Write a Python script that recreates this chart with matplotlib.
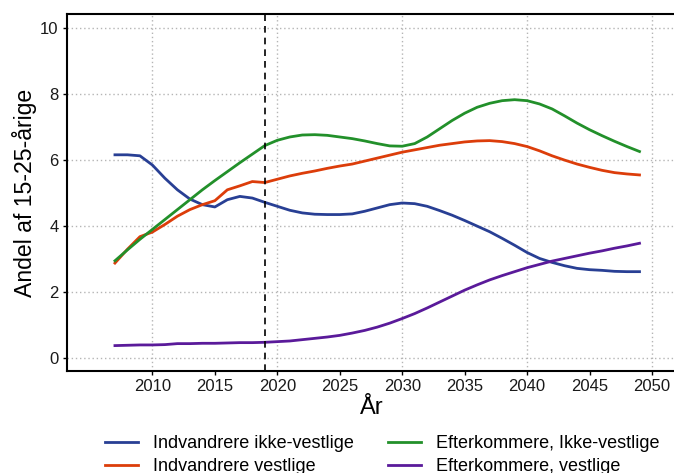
import numpy as np
import matplotlib.pyplot as plt

plt.rcParams['font.family'] = ['Liberation Sans', 'DejaVu Sans']

years = np.arange(2007, 2050)

ind_ikke_vestlige = [6.16, 6.16, 6.13, 5.85, 5.45, 5.1, 4.82, 4.65, 4.58, 4.8, 4.9, 4.85, 4.72,
                     4.6, 4.48, 4.4, 4.36, 4.35, 4.35, 4.37, 4.45, 4.55, 4.65, 4.7, 4.68, 4.6,
                     4.47, 4.33, 4.17, 4.0, 3.83, 3.63, 3.42, 3.2, 3.02, 2.9, 2.8, 2.72, 2.68,
                     2.66, 2.63, 2.62, 2.62]
ind_vestlige = [2.88, 3.3, 3.68, 3.82, 4.05, 4.3, 4.5, 4.65, 4.77, 5.1, 5.22, 5.35, 5.32,
                5.42, 5.52, 5.6, 5.67, 5.75, 5.82, 5.88, 5.97, 6.06, 6.15, 6.24, 6.31, 6.38,
                6.45, 6.5, 6.55, 6.58, 6.59, 6.56, 6.5, 6.41, 6.28, 6.13, 6.0, 5.88, 5.78,
                5.69, 5.62, 5.58, 5.55]
eft_ikke_vestlige = [2.95, 3.28, 3.6, 3.9, 4.2, 4.5, 4.8, 5.1, 5.38, 5.65, 5.92, 6.18, 6.44,
                     6.6, 6.7, 6.76, 6.77, 6.75, 6.7, 6.65, 6.58, 6.5, 6.43, 6.42, 6.5, 6.7,
                     6.95, 7.2, 7.42, 7.6, 7.72, 7.8, 7.83, 7.8, 7.7, 7.55, 7.34, 7.12, 6.92,
                     6.74, 6.57, 6.41, 6.26]
eft_vestlige = [0.38, 0.39, 0.4, 0.4, 0.41, 0.44, 0.44, 0.45, 0.45, 0.46, 0.47, 0.47, 0.48,
                0.5, 0.52, 0.56, 0.6, 0.64, 0.69, 0.76, 0.84, 0.94, 1.06, 1.2, 1.35, 1.52,
                1.7, 1.88, 2.06, 2.22, 2.37, 2.5, 2.62, 2.74, 2.84, 2.94, 3.02, 3.1, 3.18,
                3.25, 3.33, 3.4, 3.48]

series = [
    ('Indvandrere ikke-vestlige', ind_ikke_vestlige, '#283f94'),
    ('Indvandrere vestlige', ind_vestlige, '#dc3d0a'),
    ('Efterkommere, Ikke-vestlige', eft_ikke_vestlige, '#22902a'),
    ('Efterkommere, vestlige', eft_vestlige, '#5a1a9a'),
]

fig = plt.figure(figsize=(6.74, 4.73), dpi=100)
ax = fig.add_axes([0.0994, 0.2156, 0.905, 0.7544])

for label, vals, col in series:
    ax.plot(years, vals, color=col, lw=2, label=label)

ax.axvline(2019, color='black', ls=(0, (4, 3)), lw=1.2)

ax.set_xlim(2003.16, 2052.0)
ax.set_ylim(-0.39, 10.42)
ax.set_xticks(np.arange(2010, 2051, 5))
ax.set_yticks(np.arange(0, 11, 2))

# grid only on the decade lines
for x in np.arange(2010, 2051, 10):
    ax.axvline(x, color='#b5b5b5', ls=(0, (1, 2)), lw=1, zorder=0)
for y in np.arange(0, 11, 2):
    ax.axhline(y, color='#b5b5b5', ls=(0, (1, 2)), lw=1, zorder=0)

ax.tick_params(labelsize=12, length=3, width=1, colors='black', labelcolor='#1a1a1a', pad=3)
for side in ['left', 'bottom', 'top']:
    ax.spines[side].set_linewidth(1.5)
ax.spines['right'].set_visible(False)

ax.set_xlabel('År', fontsize=17, labelpad=2)
ax.set_ylabel('Andel af 15-25-årige', fontsize=16.6, labelpad=2)

ax.legend(loc='upper left', bbox_to_anchor=(105 / 674, 1 - 435 / 473),
          bbox_transform=fig.transFigure, ncol=2, frameon=False, borderpad=0,
          borderaxespad=0, fontsize=13, handlelength=1.85, handletextpad=0.8,
          columnspacing=1.9, labelspacing=0.34)

fig.savefig('out.png', dpi=100)
